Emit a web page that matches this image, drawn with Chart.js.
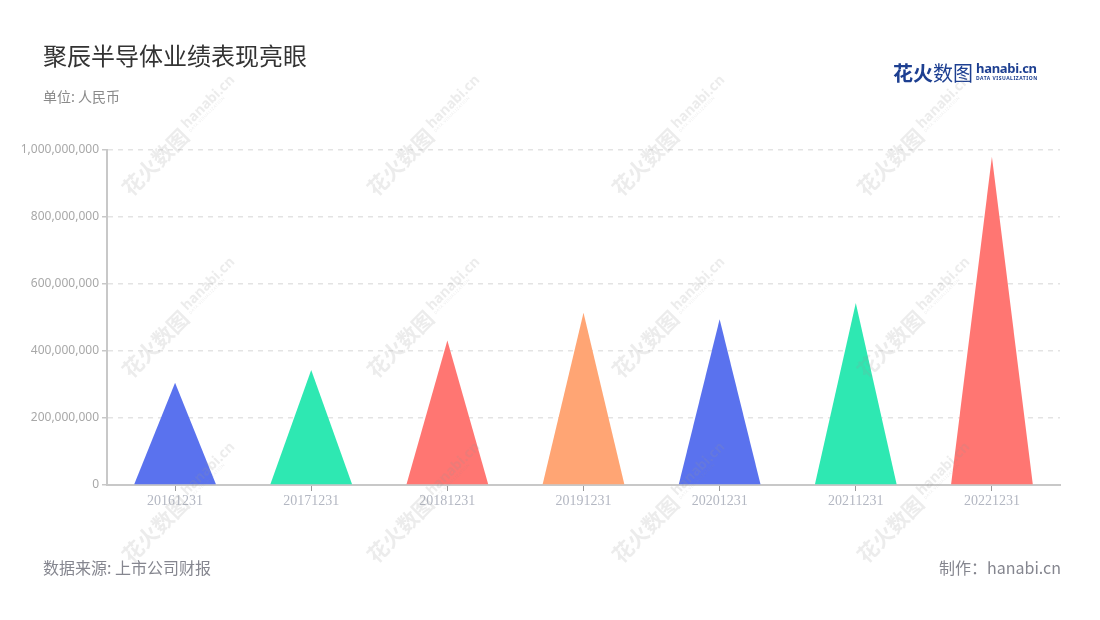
<!DOCTYPE html>
<html lang="zh">
<head>
<meta charset="utf-8">
<script src="https://cdn.jsdelivr.net/npm/chart.js@4"></script>
<style>
  html, body { margin: 0; padding: 0; background: #fff; }
  body { width: 1100px; height: 620px; position: relative; overflow: hidden;
    font-family: "Noto Sans CJK SC", "Noto Sans", sans-serif; }
  #wrap { position: absolute; left: 0; top: 0; width: 1100px; height: 620px; }
  .txt { position: absolute; white-space: nowrap; }
  #title { left: 43px; top: 37px; font-size: 24px; color: #333; }
  #unit { left: 43px; top: 86px; font-size: 14px; color: #8a8a8a; }
  #src { left: 43px; top: 555px; font-size: 16px; color: #85868f; }
  #by { right: 39px; top: 555px; font-size: 16px; color: #85868f; }
  #logo { left: 893px; top: 58px; color: #1d3f91; }
  #logo .cn { font-size: 20px; font-weight: bold; display: inline-block; vertical-align: top; }
  #logo .cn i { font-style: normal; font-weight: normal; }
  #logo .en { display: inline-block; vertical-align: top; margin-left: 3px; line-height: 1; }
  #logo .en b { display: block; font-family: "Noto Sans", sans-serif; font-size: 13px; margin-top: 4px; letter-spacing: -0.3px; }
  #logo .en small { display: block; font-family: "Noto Sans", sans-serif; font-size: 5px; letter-spacing: 0.5px; margin-top: 1px; font-weight: bold; }
  .wm { position: absolute; width: 170px; margin-left: -85px; margin-top: -12px; transform: rotate(-45deg);
    color: rgba(150,150,150,0.18); white-space: nowrap; pointer-events: none; }
  .wm .c { font-size: 21px; font-weight: bold; }
  .wm .e { display: inline-block; vertical-align: top; line-height: 1; font-family: "Noto Sans", sans-serif; margin-left: 4px; }
  .wm .e b { display: block; font-size: 14px; margin-top: 3px; }
  .wm .e small { display: block; font-size: 4px; letter-spacing: 0.5px; }
</style>
</head>
<body>
<div id="wrap"><canvas id="chart" width="1100" height="620"></canvas></div>
<div class="txt" id="title">聚辰半导体业绩表现亮眼</div>
<div class="txt" id="unit">单位: 人民币</div>
<div class="txt" id="src">数据来源: 上市公司财报</div>
<div class="txt" id="by">制作：hanabi.cn</div>
<div class="txt" id="logo"><span class="cn">花火<i>数图</i></span><span class="en"><b>hanabi.cn</b><small>DATA VISUALIZATION</small></span></div>
<div id="marks"></div>
<script>
'use strict';

// ---------- データ ----------
const categories = ['20161231', '20171231', '20181231', '20191231', '20201231', '20211231', '20221231'];
const revenue = [305000000, 343000000, 431000000, 514000000, 495000000, 543000000, 980000000];
const barColors = ['#5A72EE', '#2EE8B2', '#FF7672', '#FFA574', '#5A72EE', '#2EE8B2', '#FF7672'];
const yTicks = [0, 200000000, 400000000, 600000000, 800000000, 1000000000];

// ---------- 透かし ----------
const wmCols = [185, 430, 675, 920];
const wmRows = [128, 310, 495];
const marks = document.getElementById('marks');
wmRows.forEach(y => wmCols.forEach(x => {
  const d = document.createElement('div');
  d.className = 'wm';
  d.style.left = x + 'px'; d.style.top = y + 'px';
  d.innerHTML = '<span class="c">花火数图</span><span class="e"><b>hanabi.cn</b><small>DATA VISUALIZATION</small></span>';
  marks.appendChild(d);
}));

// ---------- 三角形の棒 ----------
const trianglePlugin = {
  id: 'triangles',
  beforeDatasetDraw(chart, args) {
    const ctx = chart.ctx;
    const ds = chart.data.datasets[args.index];
    args.meta.data.forEach((el, i) => {
      const { x, y, base, width } = el.getProps(['x', 'y', 'base', 'width'], true);
      ctx.save();
      ctx.beginPath();
      ctx.moveTo(x - width / 2, base);
      ctx.lineTo(x, y);
      ctx.lineTo(x + width / 2, base);
      ctx.closePath();
      ctx.fillStyle = ds.backgroundColor[i];
      ctx.fill();
      ctx.restore();
    });
    return false;
  }
};

new Chart(document.getElementById('chart'), {
  type: 'bar',
  data: {
    labels: categories,
    datasets: [{ data: revenue, backgroundColor: barColors, barPercentage: 0.6, categoryPercentage: 1 }]
  },
  options: {
    responsive: false,
    animation: false,
    layout: { padding: { left: 0, top: 150, right: 40, bottom: 0 } },
    plugins: { legend: { display: false }, tooltip: { enabled: false } },
    scales: {
      x: {
        z: 1,
        grid: { display: true, drawOnChartArea: false, offset: false, tickLength: 6, tickColor: '#999', tickWidth: 1 },
        border: { display: true, color: '#c8c8c8', width: 2 },
        ticks: { color: '#b3b7c2', font: { family: 'Liberation Serif', size: 14 }, padding: 2, maxRotation: 0 },
        afterFit: (a) => { a.height = 135; }
      },
      y: {
        min: 0, max: 1000000000,
        afterBuildTicks: (a) => { a.ticks = yTicks.map(v => ({ value: v })); },
        grid: { color: '#e3e3e3', lineWidth: 1.5, tickLength: 5, tickColor: '#c8c8c8', tickWidth: 1.5 },
        border: { display: true, color: '#c8c8c8', width: 2, dash: [5, 5] },
        ticks: { color: '#a8a8a8', font: { family: 'Noto Sans', size: 12 }, padding: 3,
          callback: (v) => Number(v).toLocaleString('en-US') },
        afterFit: (a) => { a.width = 107; }
      }
    }
  },
  plugins: [trianglePlugin]
});
</script>
</body>
</html>
